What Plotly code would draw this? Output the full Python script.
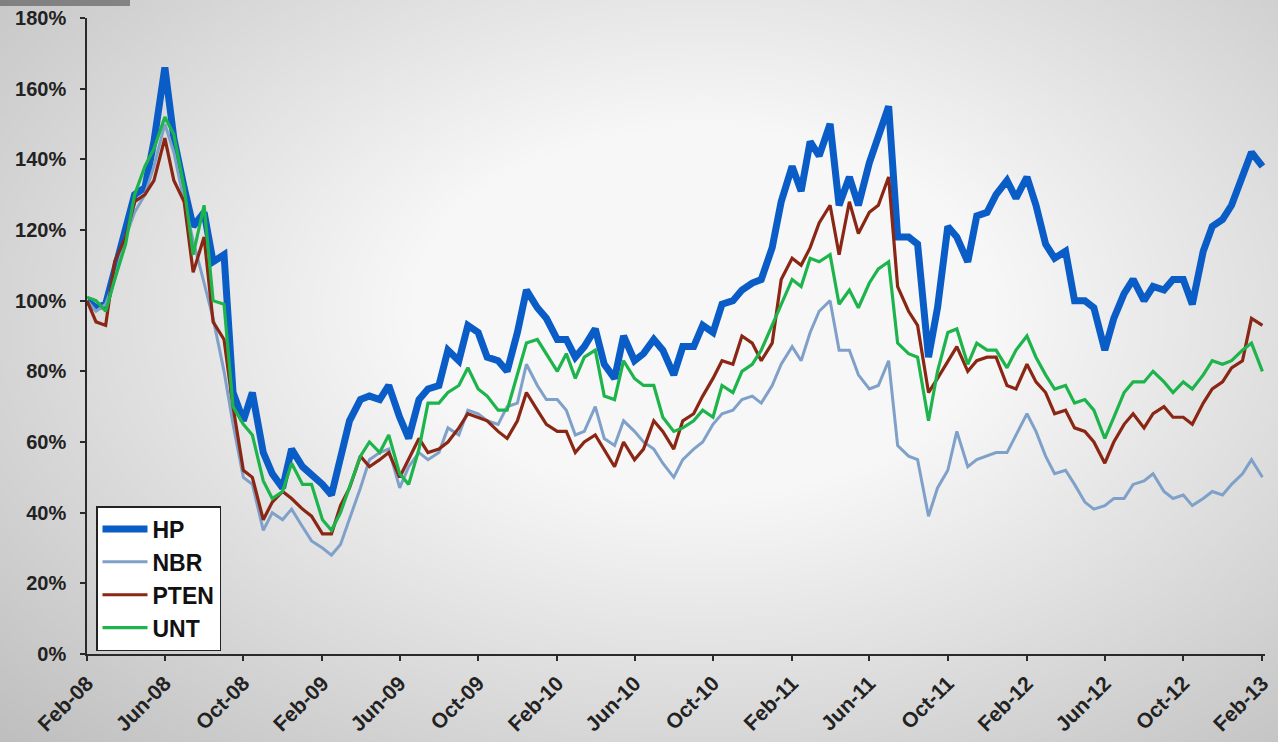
import base64
import struct
import zlib

import numpy as np
import pandas as pd
import plotly.graph_objects as go

# Semi-monthly observation dates, Feb 2008 - Feb 2013
dates = pd.date_range("2008-02-01", "2013-02-01", freq="SMS")

# Indexed performance (% of starting price)
hp = [100, 98, 99, 109, 121, 130, 132, 145, 166, 146,
      132, 121, 125, 111, 113, 74, 66, 74, 57, 51,
      47, 58, 53, 51, 48, 45, 55, 66, 72, 73,
      72, 76, 67, 61, 72, 75, 76, 86, 83, 93,
      91, 84, 83, 80, 91, 103, 98, 95, 89, 89,
      84, 87, 92, 82, 78, 90, 83, 85, 89, 86,
      79, 87, 87, 93, 91, 99, 100, 103, 105, 106,
      115, 128, 138, 131, 145, 141, 150, 127, 135, 127,
      139, 146, 155, 118, 118, 116, 84, 98, 121, 118,
      111, 124, 125, 130, 134, 129, 135, 127, 116, 112,
      114, 100, 100, 98, 86, 95, 102, 106, 100, 104,
      103, 106, 106, 99, 114, 121, 123, 127, 135, 142,
      138]

nbr = [100, 97, 99, 106, 118, 125, 130, 138, 150, 142,
       128, 117, 105, 95, 80, 65, 50, 48, 35, 40,
       38, 41, 36, 32, 30, 28, 31, 38, 47, 55,
       57, 58, 47, 53, 57, 55, 57, 64, 62, 69,
       68, 66, 65, 70, 71, 82, 76, 72, 72, 69,
       62, 63, 70, 61, 59, 66, 63, 60, 58, 54,
       50, 55, 58, 60, 65, 68, 69, 72, 73, 71,
       76, 82, 87, 83, 91, 97, 100, 86, 86, 79,
       75, 76, 83, 59, 56, 55, 39, 47, 52, 63,
       53, 55, 56, 57, 57, 62, 68, 63, 56, 51,
       52, 48, 43, 41, 42, 44, 44, 48, 49, 51,
       46, 44, 45, 42, 44, 46, 45, 48, 51, 55,
       50]

pten = [100, 94, 93, 111, 118, 128, 130, 134, 146, 134,
        128, 108, 118, 94, 89, 70, 52, 50, 38, 43,
        46, 44, 41, 39, 34, 34, 42, 47, 56, 53,
        55, 57, 50, 55, 61, 57, 58, 60, 64, 68,
        67, 66, 63, 61, 66, 74, 69, 65, 63, 63,
        57, 60, 62, 58, 53, 60, 55, 58, 66, 63,
        58, 66, 68, 73, 78, 83, 82, 90, 88, 83,
        88, 106, 112, 110, 115, 122, 127, 113, 128, 119,
        125, 127, 135, 104, 97, 93, 74, 78, 83, 87,
        80, 83, 84, 84, 76, 75, 82, 77, 74, 68,
        69, 64, 63, 60, 54, 60, 65, 68, 64, 68,
        70, 67, 67, 65, 71, 75, 77, 81, 83, 95,
        93]

unt = [101, 100, 97, 106, 116, 130, 138, 143, 152, 147,
       132, 113, 127, 100, 99, 70, 65, 62, 49, 44,
       46, 54, 48, 48, 38, 35, 40, 47, 56, 60,
       57, 62, 51, 48, 58, 71, 71, 74, 76, 81,
       75, 73, 69, 69, 79, 88, 89, 85, 80, 85,
       78, 84, 86, 73, 72, 83, 78, 76, 76, 67,
       63, 64, 66, 69, 67, 76, 74, 80, 82, 86,
       93, 99, 106, 104, 112, 111, 113, 99, 103, 98,
       105, 109, 111, 88, 85, 84, 66, 80, 91, 92,
       82, 88, 86, 86, 81, 86, 90, 84, 79, 75,
       76, 71, 72, 69, 61, 67, 74, 77, 77, 80,
       77, 74, 77, 75, 79, 83, 82, 83, 86, 88,
       80]

series = [
    ("HP", hp, "#0a5cc6", 7),
    ("NBR", nbr, "#7fa1c9", 3),
    ("PTEN", pten, "#8a2614", 3.2),
    ("UNT", unt, "#1db44c", 3.2),
]

# Axis ticks every four months
tick_dates = pd.date_range("2008-02-01", "2013-02-01", freq="4MS")
tick_labels = [d.strftime("%b-%y") for d in tick_dates]
y_ticks = list(range(0, 181, 20))
y_labels = [f"{v}%" for v in y_ticks]


def gray_png(arr):
    """Encode a 2-D uint8 array as a grayscale PNG data URI."""
    h, w = arr.shape
    raw = b"".join(b"\x00" + arr[i].tobytes() for i in range(h))

    def chunk(tag, data):
        body = tag + data
        return struct.pack(">I", len(data)) + body + struct.pack(">I", zlib.crc32(body) & 0xFFFFFFFF)

    png = (b"\x89PNG\r\n\x1a\n"
           + chunk(b"IHDR", struct.pack(">IIBBBBB", w, h, 8, 0, 0, 0, 0))
           + chunk(b"IDAT", zlib.compress(raw, 9))
           + chunk(b"IEND", b""))
    return "data:image/png;base64," + base64.b64encode(png).decode()


# Soft gray vignette behind the chart
W, H = 640, 372
yy, xx = np.mgrid[0:H, 0:W]
nx = (xx / (W - 1) - 0.55) / 0.55
ny = (yy / (H - 1) - 0.42) / 0.6
dist = np.sqrt(nx ** 2 + ny ** 2)
shade = 247 - 58 * np.clip(dist - 0.42, 0, None)
backdrop = gray_png(np.clip(shade, 0, 255).astype(np.uint8))

FIG_W, FIG_H = 1278, 742
M_L, M_R, M_T, M_B = 87, 13, 18, 88
PW = FIG_W - M_L - M_R
PH = FIG_H - M_T - M_B

fig = go.Figure()
for name, vals, color, width in series:
    fig.add_trace(go.Scatter(
        x=dates, y=vals, name=name, mode="lines",
        line=dict(color=color, width=width),
    ))

font_family = "Liberation Sans, Arial, sans-serif"
axis_common = dict(
    showline=True, linecolor="#2a2a2a", linewidth=1.5,
    ticks="outside", ticklen=5, tickwidth=1.5, tickcolor="#2a2a2a",
    showgrid=False, zeroline=False, automargin=False,
)

fig.update_layout(
    width=FIG_W, height=FIG_H,
    margin=dict(l=M_L, r=M_R, t=M_T, b=M_B),
    paper_bgcolor="#e8e8e8",
    plot_bgcolor="rgba(0,0,0,0)",
    xaxis=dict(
        **axis_common,
        type="date",
        range=["2008-02-01", "2013-02-05"],
        tickvals=tick_dates, ticktext=tick_labels,
        tickangle=-45,
        ticklabelstandoff=2,
        tickfont=dict(family=font_family, size=21, color="#222222", weight="bold"),
    ),
    yaxis=dict(
        **axis_common,
        range=[0, 180],
        tickvals=y_ticks, ticktext=y_labels,
        ticklabelstandoff=10,
        tickfont=dict(family=font_family, size=20, color="#222222", weight="bold"),
    ),
    legend=dict(
        x=(96 - M_L) / PW, y=(654 - 506) / PH,
        xanchor="left", yanchor="top",
        bgcolor="white", bordercolor="#222222", borderwidth=1.5,
        font=dict(family=font_family, size=23, color="#111111", weight="bold"),
        itemwidth=45,
        tracegroupgap=0,
    ),
    showlegend=True,
    images=[dict(
        source=backdrop, xref="paper", yref="paper",
        x=-M_L / PW, y=1 + M_T / PH,
        sizex=FIG_W / PW, sizey=FIG_H / PH,
        xanchor="left", yanchor="top",
        sizing="stretch", layer="below",
    )],
    shapes=[dict(
        type="rect", xref="paper", yref="paper",
        x0=-M_L / PW, x1=(130 - M_L) / PW,
        y0=1 + (M_T - 6) / PH, y1=1 + M_T / PH,
        fillcolor="rgba(70,70,70,0.55)", line=dict(width=0), layer="below",
    )],
)

fig.write_html("out.html")
